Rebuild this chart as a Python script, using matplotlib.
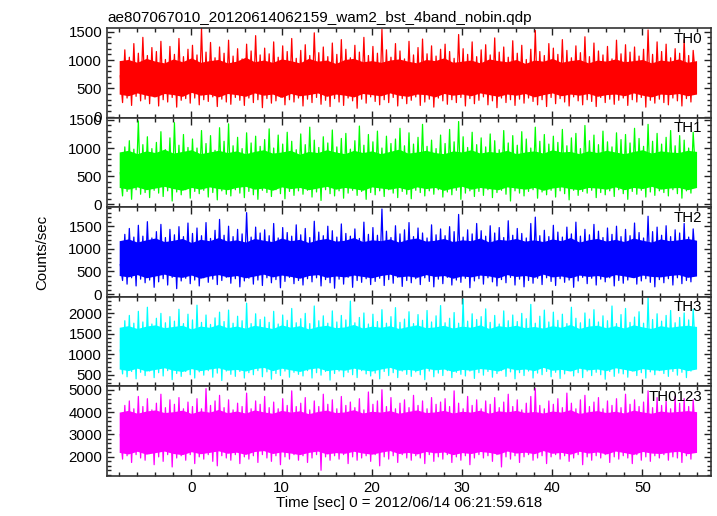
import numpy as np
import matplotlib
matplotlib.use("Agg")
import matplotlib.pyplot as plt
from matplotlib.ticker import MultipleLocator

plt.rcParams['font.family'] = ['Liberation Sans', 'DejaVu Sans']

title = "ae807067010_20120614062159_wam2_bst_4band_nobin.qdp"
xlabel = "Time [sec] 0 = 2012/06/14 06:21:59.618"
ylabel = "Counts/sec"

# light-curve samples (0.25 s spacing) and the dense core envelope (1 s spacing)
t_start = -8.0
bin_width = 0.25
core_step = 1.0

names = ["TH0", "TH1", "TH2", "TH3", "TH0123"]
colors = ["#ff0000", "#00ff00", "#0000ff", "#00ffff", "#ff00ff"]
ylims = [(-15, 1565), (-50, 1540), (-60, 1920), (215, 2405), (1145, 5150)]
major_steps = [500, 500, 500, 500, 1000]
minor_steps = [100, 100, 100, 100, 200]

th0 = [
    720, 250, 1180, 330, 1050, 200, 1290, 360, 1120, 280, 1400, 310, 1080, 230, 1220, 350,
    1150, 190, 1330, 300, 1010, 260, 1240, 340, 1100, 170, 1380, 290, 1060, 320, 1190, 240,
    1260, 330, 1090, 210, 1560, 300, 1140, 270, 1310, 350, 1040, 180, 1230, 310, 1120, 260,
    1350, 220, 1070, 340, 1200, 290, 1020, 200, 1280, 330, 1160, 250, 1430, 300, 1090, 160,
    1210, 320, 1110, 240, 1320, 280, 1050, 350, 1250, 210, 1150, 300, 1380, 260, 1030, 330,
    1170, 190, 1270, 310, 1080, 250, 1480, 340, 1130, 220, 1230, 290, 1060, 180, 1300, 320,
    1100, 260, 1360, 200, 1190, 330, 1040, 280, 1260, 150, 1140, 310, 1400, 240, 1080, 350,
    1240, 270, 1120, 210, 1540, 300, 1180, 250, 1050, 340, 1290, 190, 1160, 320, 1020, 230,
    1330, 290, 1090, 350, 1220, 200, 1370, 260, 1110, 310, 1250, 170, 1070, 330, 1190, 280,
    1280, 220, 1150, 300, 1030, 250, 1450, 340, 1200, 190, 1100, 320, 1320, 230, 1060, 290,
    1180, 350, 1270, 210, 1090, 280, 1390, 160, 1140, 330, 1230, 250, 1050, 300, 1340, 200,
    1120, 310, 1260, 240, 1010, 330, 1190, 270, 1520, 210, 1150, 300, 1080, 180, 1290, 340,
    1210, 230, 1100, 320, 1360, 260, 1170, 190, 1040, 350, 1250, 280, 1130, 210, 1410, 300,
    1060, 270, 1300, 180, 1160, 340, 1090, 250, 1240, 310, 1020, 220, 1350, 290, 1110, 330,
    1270, 200, 1140, 300, 1230, 260, 1070, 340, 1190, 170, 1530, 290, 1100, 240, 1320, 310,
    1150, 250, 1280, 210, 1040, 330, 1200, 280, 1120, 190, 1360, 320, 1080, 260, 1170, 700,
]
th0_core_hi = [
    990, 1010, 960, 1030, 980, 950, 1020, 970, 1040, 960, 990, 1010, 950,
    980, 1050, 970, 1000, 960, 1020, 990, 950, 1030, 980, 1000, 940, 1010,
    1030, 970, 990, 960, 1000, 1020, 980, 950, 1010, 990, 1040, 960, 980,
    1000, 950, 1020, 990, 970, 1010, 940, 1000, 980, 1030, 960, 990, 1010,
    950, 1000, 980, 1020, 970, 990, 1010, 950, 1000, 980, 1020, 960, 990,
]
th0_core_lo = [
    400, 370, 420, 380, 350, 410, 390, 360, 430, 380, 400, 350, 410,
    390, 360, 420, 380, 400, 340, 410, 370, 390, 420, 360, 400, 380,
    350, 410, 390, 370, 420, 380, 360, 400, 390, 350, 410, 380, 400,
    370, 420, 390, 360, 400, 380, 410, 350, 390, 420, 370, 400, 380,
    410, 360, 390, 400, 370, 420, 380, 350, 400, 390, 410, 370, 400,
]

th1 = [
    560, 150, 1020, 230, 1130, 90, 980, 260, 1480, 180, 1060, 210, 1200, 120, 990, 250,
    1100, 200, 1290, 140, 970, 240, 1180, 60, 1450, 220, 1050, 170, 1240, 260, 1010, 110,
    1160, 230, 1000, 190, 1310, 250, 1080, 130, 1220, 210, 960, 80, 1360, 240, 1120, 180,
    1430, 150, 1040, 260, 1190, 200, 990, 120, 1270, 230, 1090, 170, 1210, 90, 1030, 250,
    1150, 210, 1340, 140, 1000, 260, 1230, 190, 1070, 100, 1280, 230, 1120, 160, 970, 240,
    1250, 180, 1060, 250, 1370, 130, 1140, 220, 1010, 70, 1200, 260, 1090, 190, 1320, 150,
    1020, 240, 1170, 110, 1260, 200, 980, 250, 1130, 160, 1390, 230, 1050, 90, 1240, 210,
    1110, 170, 1300, 240, 1000, 140, 1210, 260, 1080, 200, 1160, 120, 1350, 230, 1040, 180,
    1270, 100, 1070, 250, 1190, 210, 1420, 150, 1030, 240, 1140, 180, 990, 260, 1230, 130,
    1080, 220, 1330, 170, 1110, 250, 1470, 90, 1200, 200, 1010, 240, 1280, 140, 1060, 230,
    1180, 160, 1020, 260, 1250, 120, 1130, 210, 970, 250, 1310, 180, 1090, 60, 1220, 240,
    1050, 200, 1290, 150, 1160, 230, 1000, 260, 1370, 110, 1120, 220, 1240, 170, 1070, 250,
    1210, 130, 1100, 240, 1330, 190, 1040, 80, 1180, 250, 1260, 160, 990, 230, 1400, 200,
    1130, 250, 1230, 120, 1060, 210, 1300, 170, 1110, 240, 1020, 140, 1270, 260, 1150, 190,
    1240, 90, 1090, 230, 1350, 180, 1170, 250, 1030, 130, 1420, 220, 1120, 160, 1260, 240,
    1070, 210, 1190, 150, 1310, 260, 1040, 190, 1220, 110, 1140, 240, 1000, 200, 1280, 560,
]
th1_core_hi = [
    930, 960, 900, 950, 920, 980, 910, 940, 970, 900, 930, 960, 920,
    950, 900, 940, 970, 910, 930, 960, 890, 940, 920, 970, 930, 900,
    960, 920, 950, 900, 940, 980, 910, 930, 960, 920, 900, 950, 930,
    970, 910, 940, 920, 960, 900, 930, 950, 910, 970, 930, 940, 900,
    950, 920, 960, 930, 900, 940, 970, 910, 950, 930, 920, 960, 940,
]
th1_core_lo = [
    300, 270, 310, 260, 290, 320, 280, 250, 300, 270, 310, 280, 260,
    300, 320, 270, 290, 250, 310, 280, 300, 260, 290, 320, 270, 300,
    280, 250, 310, 290, 270, 300, 260, 310, 280, 300, 250, 290, 320,
    270, 300, 280, 260, 310, 290, 270, 300, 250, 290, 310, 280, 260,
    300, 290, 270, 310, 260, 300, 280, 320, 270, 290, 300, 260, 300,
]

th2 = [
    650, 300, 1320, 220, 1450, 360, 1260, 180, 1520, 330, 1280, 250, 1600, 310, 1240, 150,
    1380, 270, 1540, 340, 1250, 200, 1430, 370, 1310, 120, 1490, 290, 1270, 350, 1570, 230,
    1340, 310, 1460, 180, 1290, 360, 1580, 260, 1230, 330, 1410, 210, 1650, 300, 1300, 370,
    1500, 240, 1270, 340, 1430, 160, 1330, 290, 1800, 350, 1260, 220, 1480, 310, 1350, 190,
    1420, 360, 1290, 250, 1560, 320, 1240, 140, 1470, 280, 1360, 370, 1280, 230, 1530, 300,
    1310, 200, 1450, 340, 1250, 270, 1610, 360, 1370, 180, 1290, 320, 1500, 250, 1400, 130,
    1260, 330, 1550, 220, 1340, 370, 1280, 150, 1440, 300, 1230, 260, 1590, 340, 1320, 210,
    1470, 280, 1300, 350, 1880, 190, 1390, 320, 1250, 240, 1510, 370, 1330, 170, 1420, 300,
    1580, 250, 1270, 340, 1460, 210, 1350, 360, 1240, 280, 1530, 160, 1310, 330, 1440, 230,
    1290, 370, 1490, 200, 1380, 310, 1760, 260, 1260, 350, 1420, 140, 1330, 290, 1560, 340,
    1400, 220, 1280, 360, 1510, 270, 1350, 180, 1470, 320, 1250, 250, 1620, 370, 1300, 200,
    1450, 330, 1340, 160, 1240, 300, 1560, 240, 1700, 350, 1290, 210, 1410, 360, 1270, 280,
    1520, 190, 1370, 340, 1260, 260, 1480, 310, 1330, 150, 1590, 290, 1280, 370, 1430, 230,
    1310, 350, 1540, 200, 1390, 330, 1250, 270, 1460, 360, 1320, 180, 1500, 300, 1270, 240,
    1430, 310, 1290, 370, 1570, 220, 1360, 290, 1240, 340, 1720, 260, 1380, 160, 1480, 320,
    1300, 250, 1510, 340, 1270, 200, 1420, 360, 1350, 230, 1560, 300, 1260, 270, 1440, 700,
]
th2_core_hi = [
    1180, 1220, 1150, 1200, 1240, 1160, 1190, 1230, 1140, 1210, 1180, 1250, 1170,
    1200, 1150, 1230, 1190, 1160, 1240, 1180, 1210, 1140, 1200, 1230, 1170, 1190,
    1250, 1160, 1200, 1180, 1220, 1150, 1210, 1240, 1170, 1190, 1230, 1160, 1200,
    1180, 1240, 1150, 1210, 1190, 1230, 1170, 1200, 1160, 1220, 1180, 1250, 1150,
    1200, 1230, 1170, 1210, 1160, 1240, 1190, 1150, 1220, 1180, 1200, 1230, 1190,
]
th2_core_lo = [
    410, 380, 430, 360, 400, 440, 390, 370, 420, 350, 400, 430, 380,
    410, 360, 400, 440, 380, 420, 390, 350, 410, 430, 370, 400, 380,
    420, 390, 360, 410, 440, 380, 400, 370, 430, 390, 410, 350, 400,
    380, 420, 400, 360, 430, 390, 410, 370, 440, 380, 400, 360, 420,
    390, 410, 370, 430, 400, 360, 420, 390, 380, 410, 430, 370, 400,
]

th3 = [
    1100, 520, 1820, 450, 1950, 580, 1760, 400, 2050, 560, 1790, 480, 2150, 590, 1740, 430,
    1880, 550, 2000, 470, 1770, 600, 1920, 380, 1810, 530, 2100, 460, 1750, 580, 1980, 500,
    1840, 420, 2200, 570, 1780, 490, 1960, 600, 1730, 440, 1890, 540, 2030, 360, 1800, 590,
    2080, 510, 1760, 460, 1930, 580, 1820, 420, 2250, 550, 1750, 500, 1990, 600, 1850, 450,
    1910, 570, 1780, 390, 2050, 530, 1740, 480, 1960, 590, 1830, 440, 2120, 560, 1770, 510,
    1870, 470, 2000, 600, 1750, 420, 2180, 550, 1820, 490, 1940, 580, 1760, 370, 2060, 530,
    1790, 590, 1950, 450, 1840, 560, 2300, 500, 1770, 430, 1900, 600, 2010, 520, 1740, 470,
    1980, 540, 1800, 400, 2090, 580, 1760, 480, 1920, 550, 2140, 430, 1780, 590, 1860, 510,
    2040, 460, 1750, 570, 1970, 500, 1830, 380, 2070, 590, 1790, 450, 1940, 540, 2190, 480,
    1770, 600, 1880, 430, 2020, 560, 1760, 510, 2350, 470, 1810, 590, 1990, 410, 1850, 550,
    1920, 490, 2110, 580, 1780, 440, 1950, 530, 1740, 600, 2060, 460, 1820, 570, 1960, 400,
    1800, 550, 2000, 480, 1870, 590, 2220, 420, 1760, 540, 1930, 500, 2080, 580, 1790, 450,
    2030, 560, 1830, 410, 1980, 520, 1750, 600, 2150, 470, 1880, 550, 1770, 430, 2010, 590,
    1860, 480, 2090, 560, 1790, 500, 1940, 390, 1820, 580, 2180, 460, 1750, 540, 1970, 520,
    2120, 440, 1780, 590, 1910, 480, 2040, 550, 1760, 420, 2380, 570, 1850, 500, 1990, 600,
    1810, 530, 1950, 460, 2070, 580, 1770, 490, 1900, 560, 2010, 430, 1840, 590, 2100, 1100,
]
th3_core_hi = [
    1660, 1700, 1630, 1690, 1720, 1650, 1680, 1710, 1620, 1690, 1660, 1730, 1650,
    1690, 1640, 1710, 1670, 1630, 1720, 1660, 1700, 1620, 1680, 1710, 1650, 1670,
    1730, 1640, 1690, 1660, 1700, 1630, 1680, 1720, 1650, 1670, 1710, 1640, 1690,
    1660, 1720, 1630, 1700, 1670, 1710, 1650, 1680, 1640, 1700, 1660, 1730, 1630,
    1690, 1710, 1650, 1700, 1640, 1720, 1670, 1630, 1700, 1660, 1690, 1710, 1680,
]
th3_core_lo = [
    640, 600, 660, 590, 630, 670, 610, 580, 650, 600, 640, 670, 610,
    630, 590, 650, 680, 600, 660, 620, 580, 640, 670, 600, 630, 610,
    660, 620, 590, 640, 680, 610, 630, 600, 660, 620, 640, 580, 630,
    610, 650, 630, 590, 670, 620, 640, 600, 680, 610, 630, 590, 660,
    620, 640, 600, 670, 630, 590, 650, 620, 610, 640, 660, 600, 640,
]

th0123 = [
    3000, 1900, 4300, 2050, 4500, 1750, 4150, 2100, 4700, 1950, 4250, 1850, 4600, 2150, 4100, 1650,
    4400, 2000, 4800, 1800, 4200, 2100, 4550, 1550, 4350, 1950, 4650, 2050, 4150, 1850, 4450, 2100,
    4250, 1700, 4600, 2000, 4150, 1900, 5050, 2100, 4300, 1800, 4500, 1600, 4750, 2050, 4200, 1950,
    4550, 1850, 4100, 2100, 4400, 1700, 4250, 2000, 4850, 1900, 4150, 2050, 4500, 1750, 4350, 2100,
    4700, 1950, 4200, 1800, 4450, 2050, 4150, 1650, 4600, 2000, 4300, 1900, 4950, 2100, 4250, 1850,
    4400, 2050, 4650, 1750, 4100, 1950, 4500, 2100, 4250, 1400, 4800, 2000, 4350, 1850, 4550, 2050,
    4150, 1900, 4700, 2100, 4300, 1700, 4450, 2000, 4200, 1850, 4600, 1950, 4100, 2050, 4900, 1800,
    4350, 2100, 4500, 1600, 5000, 2000, 4250, 1900, 4650, 2050, 4150, 1750, 4400, 2100, 4550, 1950,
    4200, 1850, 4750, 2050, 4300, 1950, 4500, 1700, 4150, 2100, 4650, 1800, 4350, 2000, 4450, 1900,
    4600, 2100, 4250, 1750, 4950, 2000, 4400, 1850, 4150, 2050, 4700, 1650, 4300, 1950, 4550, 2100,
    4150, 1950, 4500, 2050, 4350, 1800, 4650, 2100, 4200, 1550, 4450, 2000, 4800, 1900, 4250, 2050,
    4550, 1750, 4100, 2000, 4400, 2100, 4700, 1850, 5050, 1950, 4300, 2050, 4150, 1700, 4500, 2000,
    4350, 2100, 4600, 1900, 4200, 2050, 4850, 1800, 4400, 1950, 4150, 2100, 4550, 1650, 4750, 2000,
    4250, 1850, 4450, 2050, 4650, 1950, 4150, 2100, 4500, 1750, 4300, 2000, 4600, 1900, 4200, 2050,
    4800, 1950, 4350, 1700, 4550, 2100, 4250, 1850, 4450, 2000, 4950, 1800, 4200, 2050, 4650, 1950,
    4300, 2100, 4500, 1850, 4150, 2000, 4700, 1950, 4400, 1750, 4600, 2050, 4250, 1900, 4550, 2900,
]
th0123_core_hi = [
    4000, 4080, 3950, 4050, 4100, 3980, 4020, 4090, 3940, 4060, 4000, 4120, 3970,
    4050, 3960, 4100, 4010, 3950, 4080, 4000, 4060, 3930, 4030, 4090, 3980, 4010,
    4110, 3960, 4040, 4000, 4070, 3950, 4030, 4100, 3980, 4010, 4080, 3960, 4040,
    4000, 4090, 3950, 4060, 4010, 4080, 3980, 4030, 3960, 4050, 4000, 4110, 3940,
    4020, 4070, 3980, 4040, 3960, 4090, 4010, 3950, 4050, 4000, 4030, 4070, 4020,
]
th0123_core_lo = [
    2200, 2130, 2250, 2120, 2190, 2260, 2150, 2100, 2230, 2140, 2200, 2270, 2160,
    2210, 2110, 2240, 2280, 2150, 2220, 2170, 2100, 2200, 2260, 2130, 2190, 2160,
    2250, 2170, 2120, 2210, 2280, 2150, 2200, 2130, 2240, 2180, 2220, 2100, 2190,
    2150, 2240, 2200, 2120, 2260, 2170, 2210, 2140, 2280, 2160, 2200, 2120, 2250,
    2170, 2220, 2130, 2260, 2190, 2110, 2240, 2170, 2150, 2210, 2250, 2140, 2200,
]

series = [th0, th1, th2, th3, th0123]
cores_hi = [th0_core_hi, th1_core_hi, th2_core_hi, th3_core_hi, th0123_core_hi]
cores_lo = [th0_core_lo, th1_core_lo, th2_core_lo, th3_core_lo, th0123_core_lo]

W, H = 717, 516
fig = plt.figure(figsize=(W / 100, H / 100), dpi=100)
left, right = 107 / W, 711 / W
top, bottom = 1 - 28 / H, 1 - 476 / H
gs = fig.add_gridspec(5, 1, left=left, right=right, top=top, bottom=bottom, hspace=0)

axes = []
for i in range(5):
    ax = fig.add_subplot(gs[i, 0], sharex=axes[0] if axes else None)
    axes.append(ax)
    vals = np.asarray(series[i], dtype=float)
    times = t_start + bin_width * (np.arange(len(vals)) + 0.5)
    hi = np.asarray(cores_hi[i], dtype=float)
    lo = np.asarray(cores_lo[i], dtype=float)
    ctimes = t_start + core_step * np.arange(len(hi))
    ax.fill_between(ctimes, lo, hi, color=colors[i], linewidth=0)
    ax.plot(times, vals, color=colors[i], linewidth=0.9)
    ax.set_ylim(*ylims[i])
    ax.yaxis.set_major_locator(MultipleLocator(major_steps[i]))
    ax.yaxis.set_minor_locator(MultipleLocator(minor_steps[i]))
    ax.xaxis.set_major_locator(MultipleLocator(10))
    ax.xaxis.set_minor_locator(MultipleLocator(2))
    ax.tick_params(which='both', direction='in', top=True, right=True,
                   labelsize=10.8, colors='#222222', labelcolor='black', width=1)
    ax.tick_params(which='major', length=5)
    ax.tick_params(which='minor', length=3)
    for sp in ax.spines.values():
        sp.set_color('#333333')
        sp.set_linewidth(1.2)
    ax.text(0.985, 0.96, names[i], transform=ax.transAxes, ha='right', va='top',
            fontsize=10.8, color='black')
    if i < 4:
        ax.tick_params(labelbottom=False)

axes[0].set_xlim(-9.35, 57.6)
axes[0].set_title(title, loc='left', fontsize=11, pad=4)
axes[-1].set_xlabel(xlabel, fontsize=10.8, labelpad=1)
fig.text(42 / W, 1 - 252 / H, ylabel, rotation=90, ha='center', va='center', fontsize=10.8)

fig.savefig("out.png", dpi=100)
